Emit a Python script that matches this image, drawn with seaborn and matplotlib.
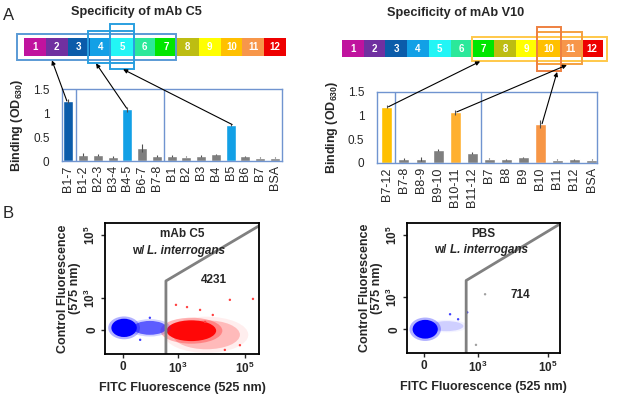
import numpy as np
import matplotlib
matplotlib.use("Agg")
import matplotlib.pyplot as plt
import seaborn as sns
from matplotlib.colors import ListedColormap
from matplotlib.patches import Rectangle, Ellipse, ConnectionPatch

W, H = 617, 403

# ---- peptide strip (12 segments) ----
strip_labels = [str(i) for i in range(1, 13)]
strip_colors = ["#c0139e", "#7030a0", "#0b5caa", "#12a0e6", "#22f5f5", "#2be89a",
                "#00e600", "#bdbd12", "#ffff00", "#ffc000", "#f7964a", "#ee0000"]

# ---- ELISA binding, mAb C5 ----
c5_names = ["B1-7", "B1-2", "B2-3", "B3-4", "B4-5", "B6-7", "B7-8",
            "B1", "B2", "B3", "B4", "B5", "B6", "B7", "BSA"]
c5_od = [1.25, 0.13, 0.13, 0.08, 1.08, 0.27, 0.10, 0.11, 0.09, 0.10, 0.14, 0.75, 0.10, 0.07, 0.07]
c5_err = [0.04, 0.03, 0.02, 0.02, 0.05, 0.08, 0.02, 0.02, 0.01, 0.02, 0.01, 0.03, 0.01, 0.01, 0.01]
c5_hl = {"B1-7": "#0b5caa", "B4-5": "#12a0e6", "B5": "#12a0e6"}

# ---- ELISA binding, mAb V10 ----
v10_names = ["B7-12", "B7-8", "B8-9", "B9-10", "B10-11", "B11-12",
             "B7", "B8", "B9", "B10", "B11", "B12", "BSA"]
v10_od = [1.19, 0.09, 0.09, 0.27, 1.07, 0.21, 0.09, 0.08, 0.12, 0.82, 0.07, 0.08, 0.07]
v10_err = [0.03, 0.02, 0.04, 0.02, 0.06, 0.02, 0.01, 0.01, 0.01, 0.09, 0.01, 0.01, 0.01]
v10_hl = {"B7-12": "#ffc000", "B10-11": "#ffb030", "B10": "#f79646"}

# ---- flow cytometry (display channels: 0 ~ 1.4, 10^3 = 3, 10^5 = 5) ----
flow_tick_labels = ["0", r"$\mathbf{10^3}$", r"$\mathbf{10^5}$"]
c5_xticks = [1.36, 3, 5]
pbs_xticks = [1.46, 3, 5]
flow_yticks = [1.98, 3, 5]
c5_gate_x = [2.64, 2.64, 5.42]
c5_gate_y = [1.22, 3.54, 5.29]
pbs_gate_x = [2.66, 2.66, 5.34]
pbs_gate_y = [1.22, 3.54, 5.35]
c5_count = "4231"
pbs_count = "714"
# population blobs: centre x, centre y, half width, half height, colour, density
c5_pop_x = [3.85, 3.40, 2.16, 1.39]
c5_pop_y = [1.83, 1.96, 2.05, 2.05]
c5_pop_w = [1.00, 0.74, 0.50, 0.38]
c5_pop_h = [0.46, 0.33, 0.22, 0.29]
c5_pop_c = ["#ff2020", "#ff0000", "#2a2aff", "#0000ff"]
c5_pop_a = [0.25, 0.95, 0.7, 1.0]
pbs_pop_x = [2.10, 1.49]
pbs_pop_y = [2.08, 1.98]
pbs_pop_w = [0.48, 0.36]
pbs_pop_h = [0.16, 0.30]
pbs_pop_c = ["#4040ff", "#0000ff"]
pbs_pop_a = [0.2, 1.0]
c5_dots_x = [3.66, 4.55, 5.24, 4.04, 3.27, 4.40, 4.85, 2.94, 3.81, 2.16, 1.87]
c5_dots_y = [2.62, 2.94, 2.97, 2.46, 2.71, 1.35, 1.50, 2.78, 2.24, 2.37, 1.67]
c5_dots_c = ["#ff4040"] * 9 + ["#4040ff"] * 2
pbs_dots_x = [3.20, 2.94, 2.20, 2.43, 2.69]
pbs_dots_y = [3.10, 1.48, 2.46, 2.30, 2.52]
pbs_dots_c = ["#a0a0a0", "#a0a0a0", "#4040ff", "#4040ff", "#4040ff"]

sns.set_style("white")
plt.rcParams["font.family"] = ["Liberation Sans", "DejaVu Sans"]
plt.rcParams["mathtext.fontset"] = "custom"
plt.rcParams["mathtext.rm"] = "Liberation Sans"
plt.rcParams["mathtext.bf"] = "Liberation Sans:bold"
plt.rcParams["mathtext.it"] = "Liberation Sans:italic"

fig = plt.figure(figsize=(W / 100, H / 100), dpi=100)
fig.patch.set_facecolor("white")


def px_axes(x0, y0, x1, y1):
    return fig.add_axes([x0 / W, 1 - y1 / H, (x1 - x0) / W, (y1 - y0) / H])


def draw_strip(ax):
    sns.heatmap(np.arange(12).reshape(1, -1), ax=ax, cmap=ListedColormap(strip_colors),
                vmin=-0.5, vmax=11.5, cbar=False, annot=np.array([strip_labels]), fmt="",
                annot_kws=dict(color="white", weight="bold", size=7),
                xticklabels=False, yticklabels=False)


def draw_bars(ax, names, od, err, hl, width):
    palette = {n: hl.get(n, "#7f7f7f") for n in names}
    sns.barplot(x=names, y=od, hue=names, palette=palette, ax=ax, width=width,
                legend=False, errorbar=None, saturation=1)
    ax.errorbar(range(len(names)), od, yerr=err, fmt="none", ecolor="#505050", elinewidth=0.8)
    ax.set_ylim(0, 1.5)
    ax.set_yticks([0, 0.5, 1, 1.5], ["0", "0.5", "1", "1.5"])
    ax.tick_params(axis="x", labelrotation=90, labelsize=9, length=0, pad=3)
    ax.tick_params(axis="y", labelsize=8.5, length=0, pad=9)
    for s in ax.spines.values():
        s.set_color("#7094d0")
        s.set_linewidth(1)
    ax.set_ylabel(r"Binding (OD$_\mathbf{630}$)", fontsize=9, fontweight="bold", labelpad=6)
    ax.set_xlabel("")


def arrow(ax_from, p_from, ax_to, p_to):
    fig.add_artist(ConnectionPatch(xyA=p_from, coordsA=ax_from.transData,
                                   xyB=p_to, coordsB=ax_to.transData,
                                   arrowstyle="-|>", color="black", lw=0.8,
                                   mutation_scale=6, shrinkA=0, shrinkB=0))


def box(ax, x0, x1, y0, y1, color, lw=1.4):
    ax.add_patch(Rectangle((x0, y0), x1 - x0, y1 - y0, fill=False, edgecolor=color,
                           lw=lw, clip_on=False, zorder=5))


# ---------------- Panel A, left ----------------
fig.text(136 / W, 1 - 12 / H, "Specificity of mAb C5", ha="center", va="center",
         fontsize=9.2, fontweight="bold")
s1 = px_axes(24, 38, 286, 56)
draw_strip(s1)
box(s1, -0.32, 6.97, -0.22, 1.22, "#5a9ad5")
box(s1, 2.95, 5.05, -0.39, 1.39, "#2a9fe0")
box(s1, 3.95, 5.05, -0.78, 1.72, "#2a9fe0")

b1 = px_axes(62, 89, 282, 161)
draw_bars(b1, c5_names, c5_od, c5_err, c5_hl, 0.68)
b1.set_xlim(-0.43, len(c5_names) - 0.52)
b1.vlines([0.5, 6.5], 0, 1.5, color="#7094d0", lw=1)
arrow(b1, (-0.1, 1.25), s1, (1.28, 1.24))
arrow(b1, (3.95, 1.1), s1, (3.3, 1.41))
arrow(b1, (11.1, 0.76), s1, (4.54, 1.74))

# ---------------- Panel A, right ----------------
fig.text(456 / W, 1 - 13 / H, "Specificity of mAb V10", ha="center", va="center",
         fontsize=9.2, fontweight="bold")
s2 = px_axes(342, 40, 603, 57)
draw_strip(s2)
box(s2, 5.98, 12.18, -0.18, 1.24, "#ffc84a")
box(s2, 8.97, 11.03, -0.47, 1.41, "#f5a040")
box(s2, 8.97, 10.07, -0.76, 1.82, "#ee8040")

b2 = px_axes(377, 92, 597, 163)
draw_bars(b2, v10_names, v10_od, v10_err, v10_hl, 0.64)
b2.set_xlim(-0.58, len(v10_names) - 0.68)
b2.vlines([0.5, 5.5], 0, 1.5, color="#7094d0", lw=1)
arrow(b2, (0.1, 1.19), s2, (6.35, 1.26))
arrow(b2, (4.1, 1.08), s2, (10.34, 1.47))
arrow(b2, (9.1, 0.83), s2, (9.89, 1.88))


# ---------------- Panel B ----------------
def draw_flow(ax, xticks, xlim, gx, gy, px, py, pw, ph, pc, pa, dx, dy, dc,
              title, count, cpos, split):
    # each population: a soft fringe plus a dense body
    for x, y, w, h, c, a in zip(px, py, pw, ph, pc, pa):
        ax.add_patch(Ellipse((x, y), 2.5 * w, 2.5 * h, color=c, alpha=a * 0.3, lw=0))
        ax.add_patch(Ellipse((x, y), 2 * w, 2 * h, color=c, alpha=a, lw=0))
    sns.scatterplot(x=dx, y=dy, hue=list(range(len(dx))), palette=dc, ax=ax,
                    s=3, linewidth=0, legend=False)
    ax.plot(gx, gy, color="#808080", lw=2, solid_capstyle="butt")
    ax.set_xlim(*xlim)
    ax.set_ylim(1.22, 5.38)
    ax.set_xticks(xticks, flow_tick_labels)
    ax.set_yticks(flow_yticks, flow_tick_labels)
    ax.tick_params(axis="both", direction="out", length=3, width=1, labelsize=8.5, pad=2,
                   bottom=True, left=True)
    for lab in ax.get_xticklabels() + ax.get_yticklabels():
        lab.set_fontweight("bold")
    for lab in ax.get_yticklabels():
        lab.set_rotation(90)
        lab.set_va("center")
    for s in ax.spines.values():
        s.set_color("black")
        s.set_linewidth(1.3)
    ax.text(0.5, 0.915, title, transform=ax.transAxes, ha="center", va="center",
            fontsize=8.5, fontweight="bold")
    ax.text(split, 0.79, "w/ ", transform=ax.transAxes, ha="right",
            va="center", fontsize=8.5, fontweight="bold")
    ax.text(split, 0.79, "L. interrogans", transform=ax.transAxes, ha="left",
            va="center", fontsize=8.5, fontweight="bold", style="italic")
    ax.text(cpos[0], cpos[1], count, transform=ax.transAxes, ha="center", va="center",
            fontsize=8.5, fontweight="bold")
    ax.set_xlabel("FITC Fluorescence (525 nm)", fontsize=9, fontweight="bold", labelpad=4)
    ax.set_ylabel("Control Fluorescence\n(575 nm)", fontsize=9, fontweight="bold",
                  labelpad=1, linespacing=1.1)


f1 = px_axes(105, 223, 259, 354)
draw_flow(f1, c5_xticks, (0.82, 5.42), c5_gate_x, c5_gate_y, c5_pop_x, c5_pop_y, c5_pop_w,
          c5_pop_h, c5_pop_c, c5_pop_a, c5_dots_x, c5_dots_y, c5_dots_c,
          "mAb C5", c5_count, (0.71, 0.565), 0.275)
f2 = px_axes(407, 223, 560, 353)
draw_flow(f2, pbs_xticks, (0.97, 5.34), pbs_gate_x, pbs_gate_y, pbs_pop_x, pbs_pop_y, pbs_pop_w,
          pbs_pop_h, pbs_pop_c, pbs_pop_a, pbs_dots_x, pbs_dots_y, pbs_dots_c,
          "PBS", pbs_count, (0.74, 0.45), 0.28)

fig.text(9 / W, 1 - 15 / H, "A", ha="center", va="center", fontsize=12)
fig.text(8 / W, 1 - 213 / H, "B", ha="center", va="center", fontsize=12)

fig.savefig("out.png", dpi=100)
